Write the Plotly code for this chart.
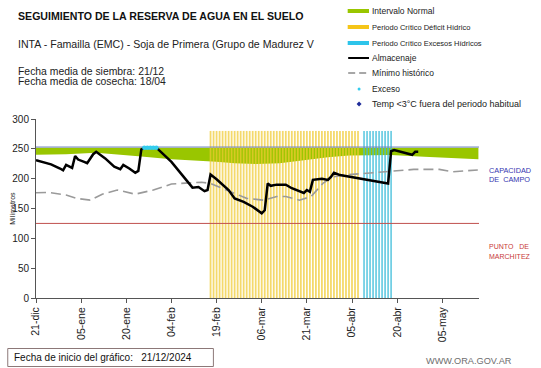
import plotly.graph_objects as go
import pandas as pd

START = pd.Timestamp("2024-12-21")
X_END_DAY = 147.2

# --- Almacenaje (day offset from start, mm) ---
alm_days = [0, 5, 8, 9, 10, 11, 12, 13, 14, 16, 17, 19, 20, 23, 26, 28, 29, 31, 33, 34,
            35, 36, 40, 45, 50, 52, 54, 56, 57, 58, 60, 64, 66, 69, 72, 75, 76, 77, 78, 80,
            83, 85, 89, 90, 91, 92, 95, 97, 98, 99, 100, 101, 117, 118, 119, 125, 126, 127]
alm_vals = [231, 224, 217, 214, 223, 220, 218, 238, 232, 228, 226, 241, 245, 234, 220, 216, 223, 217, 210, 213,
            249, 252, 252, 228, 198, 185, 186, 179, 181, 207, 199, 181, 167, 161, 153, 142, 147, 192, 188, 190,
            190, 184, 176, 181, 178, 198, 200, 198, 203, 210, 208, 206, 192, 246, 248, 240, 245, 245]

# --- Mínimo histórico ---
min_days = [0, 4, 10, 13.5, 18, 22, 27, 33, 39, 45, 51, 55, 58, 64.5, 70, 75.5, 80, 83, 87.5, 91.4,
            95.3, 98.6, 102, 112, 118, 125.5, 134, 138.6, 142, 146.8]
min_vals = [176.5, 177, 172.6, 167, 164, 174, 181, 174, 181, 191, 193, 194, 192, 178, 167, 164, 170, 170, 164, 170,
            192, 203, 206, 210, 213, 215.5, 215.5, 211.5, 213, 214.5]

# --- Intervalo normal (banda) ---
norm_days = [0, 10, 20, 27, 35, 45, 52, 54, 60, 66, 73, 81, 89, 97, 104, 118, 129, 147]
norm_low = [240, 241, 243.5, 241, 237, 232.4, 231, 230, 228.5, 226, 224.6, 225.7, 231, 235.8, 239, 239.6, 236.8, 232.4]
norm_high = [252, 252, 252, 252, 252, 252, 252, 252, 252, 252, 252, 252, 252, 252, 252, 252, 252, 252]

# --- Periodos críticos (días con barra) ---
deficit_first, deficit_last = 58, 107
exceso_hid_first, exceso_hid_last = 109, 118
PERIOD_TOP = 280

# --- Exceso (puntos) ---
exceso_days = [36, 37, 38, 39, 40]
exceso_vals = [252, 252, 252, 252, 252]

CAPACIDAD = 253
MARCHITEZ = 125

tick_days = [0, 15, 30, 45, 60, 75, 90, 105, 120, 135]
tick_labels = ["21-dic", "05-ene", "20-ene", "04-feb", "19-feb", "06-mar", "21-mar", "05-abr", "20-abr", "05-may"]
y_ticks = [0, 50, 100, 150, 200, 250, 300]


def to_date(days):
    return [START + pd.Timedelta(days=float(d)) for d in days]


def period_lines(first, last, top):
    xs, ys = [], []
    for d in pd.date_range(START + pd.Timedelta(days=first), START + pd.Timedelta(days=last), freq="D"):
        xs += [d, d, None]
        ys += [0, top, None]
    return xs, ys


fig = go.Figure()

# normal band
nd = to_date(norm_days)
fig.add_trace(go.Scatter(x=nd, y=norm_low, mode="lines", line=dict(width=0, color="#99CC00"),
                         showlegend=False, hoverinfo="skip"))
fig.add_trace(go.Scatter(x=nd, y=norm_high, mode="lines", line=dict(width=0, color="#99CC00"),
                         fill="tonexty", fillcolor="#99C600", showlegend=False, hoverinfo="skip"))

# critical period lines
xs, ys = period_lines(deficit_first, deficit_last, PERIOD_TOP)
fig.add_trace(go.Scatter(x=xs, y=ys, mode="lines", line=dict(width=1.8, color="rgba(240,202,50,0.72)"),
                         showlegend=False, hoverinfo="skip"))
xs, ys = period_lines(exceso_hid_first, exceso_hid_last, PERIOD_TOP)
fig.add_trace(go.Scatter(x=xs, y=ys, mode="lines", line=dict(width=1.8, color="rgba(60,188,218,0.72)"),
                         showlegend=False, hoverinfo="skip"))

# reference lines
edge = to_date([0, X_END_DAY])
fig.add_trace(go.Scatter(x=edge, y=[CAPACIDAD, CAPACIDAD], mode="lines",
                         line=dict(width=1, color="#6C7FBF"), showlegend=False, hoverinfo="skip"))
fig.add_trace(go.Scatter(x=edge, y=[MARCHITEZ, MARCHITEZ], mode="lines",
                         line=dict(width=1, color="#C0504D"), showlegend=False, hoverinfo="skip"))

# mínimo histórico
fig.add_trace(go.Scatter(x=to_date(min_days), y=min_vals, mode="lines",
                         line=dict(width=1.6, color="#9A9A9A", dash="10px,5px"), showlegend=False))

# almacenaje
fig.add_trace(go.Scatter(x=to_date(alm_days), y=alm_vals, mode="lines",
                         line=dict(width=2.5, color="#000000"), showlegend=False))

# exceso points
fig.add_trace(go.Scatter(x=to_date(exceso_days), y=exceso_vals, mode="markers",
                         marker=dict(size=4.5, color="#33CCEE"), showlegend=False))

W, H = 541, 368
L, R, T, B = 32, 62, 119, 70
PW, PH = W - L - R, H - T - B


def pxx(x):
    return (x - L) / PW


def pxy(y):
    return (H - B - y) / PH


shapes = []
annotations = []
FONT = "Liberation Sans, Arial, sans-serif"

# legend (manual)
legend_items = [
    ("Intervalo Normal", "bar", "#99C600", 11, 8.5),
    ("Periodo Crítico Déficit Hídrico", "bar", "#F5C518", 27, 7.5),
    ("Periodo Crítico Excesos Hídricos", "bar", "#2DC4EA", 43, 7.5),
    ("Almacenaje", "line", "#000000", 58, 8.5),
    ("Mínimo histórico", "dash", "#8A8A8A", 73, 8.5),
    ("Exceso", "dot", "#33CCEE", 89, 8.5),
    ("Temp <3°C fuera del periodo habitual", "diamond", "#1F2C9A", 104, 9),
]
for label, kind, color, yc, fs in legend_items:
    if kind == "bar":
        shapes.append(dict(type="rect", xref="paper", yref="paper", x0=pxx(346.5), x1=pxx(368),
                           y0=pxy(yc + 2), y1=pxy(yc - 2), line=dict(width=0), fillcolor=color))
    elif kind == "line":
        shapes.append(dict(type="line", xref="paper", yref="paper", x0=pxx(347), x1=pxx(368),
                           y0=pxy(yc), y1=pxy(yc), line=dict(width=2, color=color)))
    elif kind == "dash":
        shapes.append(dict(type="line", xref="paper", yref="paper", x0=pxx(347), x1=pxx(368),
                           y0=pxy(yc), y1=pxy(yc), line=dict(width=1.5, color=color, dash="7px,4px")))
    elif kind == "dot":
        shapes.append(dict(type="circle", xref="paper", yref="paper", x0=pxx(356.5), x1=pxx(359.5),
                           y0=pxy(yc + 1.5), y1=pxy(yc - 1.5), line=dict(width=0), fillcolor=color))
    elif kind == "diamond":
        shapes.append(dict(type="path", xref="paper", yref="paper",
                           path="M {} {} L {} {} L {} {} L {} {} Z".format(
                               pxx(358), pxy(yc - 2.5), pxx(360.5), pxy(yc), pxx(358), pxy(yc + 2.5),
                               pxx(355.5), pxy(yc)),
                           line=dict(width=0), fillcolor=color))
    annotations.append(dict(text=label, xref="paper", yref="paper", x=pxx(369), y=pxy(yc),
                            xanchor="left", yanchor="middle", showarrow=False,
                            font=dict(family=FONT, size=fs, color="#222222")))

# titles
annotations += [
    dict(text="<b>SEGUIMIENTO DE LA RESERVA DE AGUA EN EL SUELO</b>", x=pxx(12), y=pxy(15.5),
         font=dict(family=FONT, size=10.6, color="#111111")),
    dict(text="INTA - Famailla (EMC) - Soja de Primera (Grupo de Madurez V", x=pxx(12), y=pxy(43.5),
         font=dict(family=FONT, size=10.6, color="#222222")),
    dict(text="Fecha media de siembra: 21/12", x=pxx(12), y=pxy(71.5),
         font=dict(family=FONT, size=10.4, color="#222222")),
    dict(text="Fecha media de cosecha: 18/04", x=pxx(12), y=pxy(81.5),
         font=dict(family=FONT, size=10.4, color="#222222")),
    dict(text="CAPACIDAD", x=pxx(487), y=pxy(170.5), font=dict(family=FONT, size=7.3, color="#3535B0")),
    dict(text="DE  CAMPO", x=pxx(487), y=pxy(179), font=dict(family=FONT, size=7.3, color="#3535B0")),
    dict(text="PUNTO   DE", x=pxx(487), y=pxy(246), font=dict(family=FONT, size=7, color="#C83A3A")),
    dict(text="MARCHITEZ", x=pxx(487), y=pxy(256), font=dict(family=FONT, size=7, color="#C83A3A")),
    dict(text="Fecha de inicio del gráfico:   21/12/2024", x=pxx(8), y=pxy(357.5),
         font=dict(family=FONT, size=10, color="#111111")),
    dict(text="WWW.ORA.GOV.AR", x=pxx(424), y=pxy(360.5), font=dict(family=FONT, size=9.2, color="#6E6E6E")),
]
for a in annotations[len(legend_items):]:
    a.update(xref="paper", yref="paper", xanchor="left", yanchor="middle", showarrow=False)

annotations.append(dict(text="Milímetros", xref="paper", yref="paper", x=pxx(8), y=0.5, textangle=-90,
                        xanchor="center", yanchor="middle", showarrow=False,
                        font=dict(family=FONT, size=7, color="#222222")))

shapes.append(dict(type="rect", xref="paper", yref="paper", x0=pxx(3.5), x1=pxx(211),
                   y0=pxy(366.5), y1=pxy(348.5), line=dict(width=1, color="#8C7878"), fillcolor="rgba(0,0,0,0)"))

fig.update_layout(
    width=W, height=H,
    margin=dict(l=L, r=R, t=T, b=B),
    paper_bgcolor="white", plot_bgcolor="white",
    showlegend=False,
    shapes=shapes, annotations=annotations,
    font=dict(family=FONT, color="#222222"),
    xaxis=dict(type="date", range=to_date([0, X_END_DAY]),
               tickvals=to_date(tick_days), ticktext=tick_labels, tickangle=-90,
               ticks="outside", ticklen=4, tickcolor="#555555", showline=True, linecolor="#555555",
               showgrid=False, zeroline=False, tickfont=dict(family=FONT, size=10.5, color="#222222")),
    yaxis=dict(range=[0, 300], tickvals=y_ticks, ticks="outside", ticklen=4, tickcolor="#555555",
               showline=True, linecolor="#555555", showgrid=False, zeroline=False,
               tickfont=dict(family=FONT, size=10, color="#222222")),
)

fig.write_html("out.html", config={"displayModeBar": False},
               post_script="document.body.style.margin='0';document.body.style.overflow='hidden';")
